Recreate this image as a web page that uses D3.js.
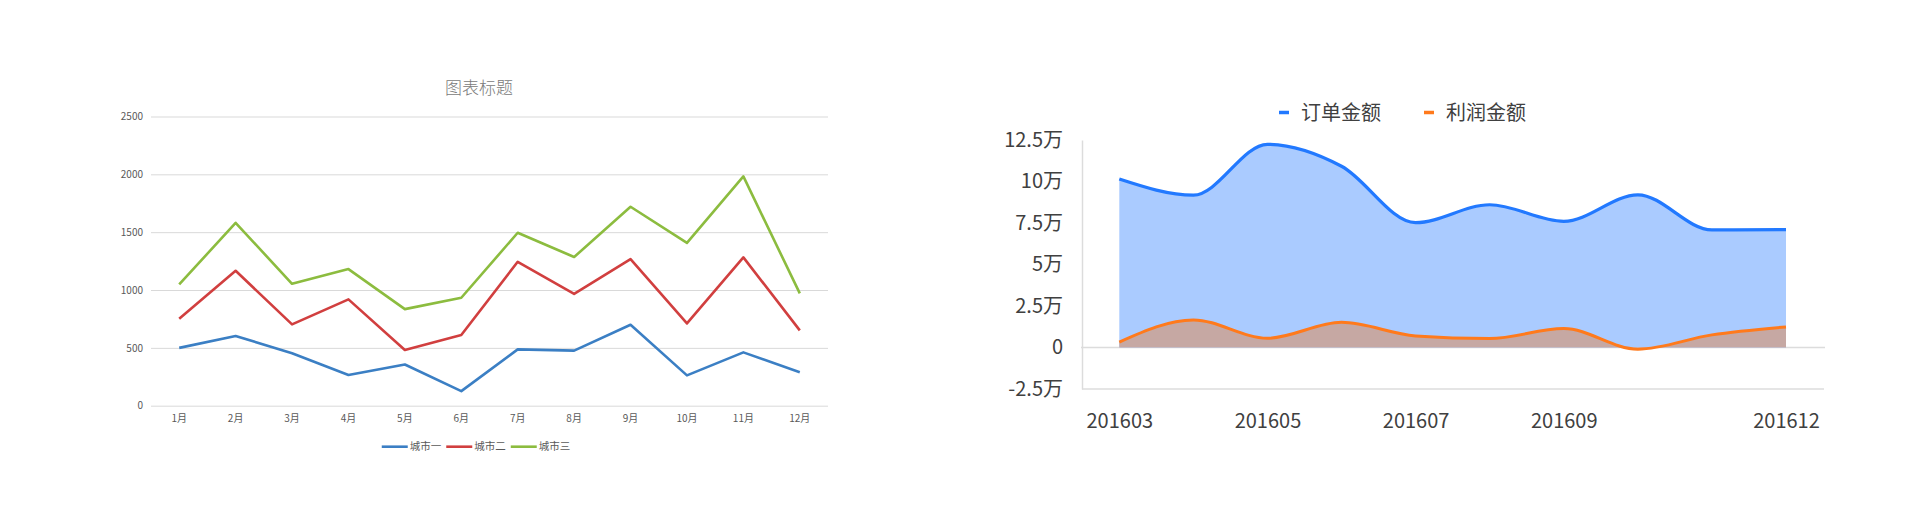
<!DOCTYPE html>
<html>
<head>
<meta charset="utf-8">
<script src="https://cdn.jsdelivr.net/npm/d3@7/dist/d3.min.js"></script>
<style>
  html, body { margin: 0; padding: 0; background: #fff; }
  svg { display: block; }
</style>
</head>
<body>
<svg id="chart" width="1920" height="526"></svg>
<script>
// left chart data
var months = ['1月','2月','3月','4月','5月','6月','7月','8月','9月','10月','11月','12月'];
var city1 = [500, 603, 453, 265, 356, 126, 487, 476, 700, 262, 461, 289];
var city2 = [752, 1166, 703, 919, 481, 611, 1244, 966, 1267, 711, 1282, 651];
var city3 = [1048, 1581, 1054, 1181, 835, 933, 1495, 1285, 1720, 1408, 1982, 971];
var cityNames = ['城市一', '城市二', '城市三'];
var leftTicks = [0, 500, 1000, 1500, 2000, 2500];

// right chart data (万)
var periods = ['201603','201604','201605','201606','201607','201608','201609','201610','201611','201612'];
var orderAmt = [10.15, 9.18, 12.24, 10.92, 7.52, 8.6, 7.6, 9.2, 7.08, 7.1];
var profitAmt = [0.33, 1.66, 0.56, 1.52, 0.7, 0.54, 1.14, -0.1, 0.76, 1.24];
var rightTicks = [-2.5, 0, 2.5, 5, 7.5, 10, 12.5];
var rightXLabels = ['201603','201605','201607','201609','201612'];
var rightNames = ['订单金额', '利润金额'];

var svg = d3.select('#chart');

// ---------- left: line chart ----------
var leftColors = ['#3b7fc4', '#d13f3f', '#8cbc3f'];
var lx = d3.scaleBand().domain(months).range([151, 828]);
var ly = d3.scaleLinear().domain([0, 2500]).range([405.7, 116.5]);
var leftFont = '"Noto Sans CJK SC", "Noto Sans", sans-serif';

var lgrid = svg.append('g')
    .attr('transform', 'translate(151,0)')
    .call(d3.axisLeft(ly).tickValues(leftTicks).tickSize(-677).tickPadding(8).tickFormat(d3.format('d')));
lgrid.select('.domain').remove();
lgrid.selectAll('line').attr('stroke', '#d9d9d9').attr('stroke-width', 1);
lgrid.selectAll('text').attr('fill', '#595959').style('font-family', leftFont).style('font-size', '10px');

var lxAxis = svg.append('g')
    .attr('transform', 'translate(0,405.7)')
    .call(d3.axisBottom(lx).tickSize(0).tickPadding(9));
lxAxis.select('.domain').remove();
lxAxis.selectAll('text').attr('fill', '#595959').style('font-family', leftFont).style('font-size', '10px');

var line = d3.line()
    .x(function(d, i) { return lx(months[i]) + lx.bandwidth() / 2; })
    .y(function(d) { return ly(d); });

[city1, city2, city3].forEach(function(series, k) {
    svg.append('path')
        .datum(series)
        .attr('d', line)
        .attr('fill', 'none')
        .attr('stroke', leftColors[k])
        .attr('stroke-width', 2.6)
        .attr('stroke-linejoin', 'round');
});

svg.append('text')
    .attr('x', 479)
    .attr('y', 88)
    .attr('dy', '0.35em')
    .attr('text-anchor', 'middle')
    .attr('fill', '#7a7a7a')
    .style('font-family', '"Noto Sans CJK SC", sans-serif')
    .style('font-weight', 300)
    .style('font-size', '17px')
    .text('图表标题');

// legend, centered under the chart
var lleg = svg.append('g');
var lpos = 0;
cityNames.forEach(function(name, k) {
    var item = lleg.append('g').attr('transform', 'translate(' + lpos + ',0)');
    item.append('line').attr('x1', 0).attr('x2', 26).attr('y1', 0).attr('y2', 0)
        .attr('stroke', leftColors[k]).attr('stroke-width', 2.6);
    var t = item.append('text').attr('x', 28).attr('dy', '0.35em')
        .attr('fill', '#595959').style('font-family', leftFont).style('font-size', '10.5px')
        .text(name);
    lpos += 28 + t.node().getComputedTextLength() + 5;
});
lleg.attr('transform', 'translate(' + (476 - (lpos - 5) / 2) + ',446.7)');

// ---------- right: smooth area chart ----------
var blue = '#2279ff', orange = '#ff7a1c';
var rx = d3.scalePoint().domain(periods).range([1119.3, 1786]);
var ry = d3.scaleLinear().domain([-2.5, 12.5]).range([389, 140]);
var rightFont = '"Noto Sans CJK SC", "Noto Sans", sans-serif';

var area = d3.area()
    .x(function(d, i) { return rx(periods[i]); })
    .y0(ry(0))
    .y1(function(d) { return ry(d); })
    .curve(d3.curveMonotoneX);
var smooth = d3.line()
    .x(function(d, i) { return rx(periods[i]); })
    .y(function(d) { return ry(d); })
    .curve(d3.curveMonotoneX);

// zero line and axis lines
svg.append('line').attr('x1', 1081).attr('x2', 1825).attr('y1', ry(0)).attr('y2', ry(0))
    .attr('stroke', '#dcdcdc').attr('stroke-width', 1.5);

svg.append('path').datum(orderAmt).attr('d', area).attr('fill', '#aacbff');
svg.append('path').datum(profitAmt).attr('d', area).attr('fill', '#c6a8a3');
svg.append('path').datum(orderAmt).attr('d', smooth).attr('fill', 'none')
    .attr('stroke', blue).attr('stroke-width', 3.2);
svg.append('path').datum(profitAmt).attr('d', smooth).attr('fill', 'none')
    .attr('stroke', orange).attr('stroke-width', 3);

var ryAxis = svg.append('g')
    .attr('transform', 'translate(1082,0)')
    .call(d3.axisLeft(ry).tickValues(rightTicks).tickSize(0).tickPadding(19)
        .tickFormat(function(d) { return d === 0 ? '0' : d + '万'; }));
ryAxis.select('.domain').attr('stroke', '#dcdcdc').attr('stroke-width', 1.5);
ryAxis.selectAll('text').attr('fill', '#404040').style('font-family', rightFont).style('font-size', '20px');

var rxAxis = svg.append('g')
    .attr('transform', 'translate(0,389)')
    .call(d3.axisBottom(rx).tickValues(rightXLabels).tickSize(0).tickPadding(25));
rxAxis.select('.domain').remove();
rxAxis.selectAll('text').attr('fill', '#404040').style('font-family', rightFont).style('font-size', '20px');
svg.append('line').attr('x1', 1082).attr('x2', 1824).attr('y1', 389).attr('y2', 389)
    .attr('stroke', '#dcdcdc').attr('stroke-width', 1.5);

// legend
var rleg = svg.append('g').attr('transform', 'translate(1279,112.5)');
var rpos = 0;
rightNames.forEach(function(name, k) {
    var item = rleg.append('g').attr('transform', 'translate(' + rpos + ',0)');
    item.append('line').attr('x1', 0).attr('x2', 10).attr('y1', 0).attr('y2', 0)
        .attr('stroke', k === 0 ? blue : orange).attr('stroke-width', 3.5);
    var t = item.append('text').attr('x', 22).attr('dy', '0.35em')
        .attr('fill', '#404040').style('font-family', rightFont).style('font-size', '20px')
        .text(name);
    rpos += 22 + t.node().getComputedTextLength() + 43;
});
</script>
</body>
</html>
